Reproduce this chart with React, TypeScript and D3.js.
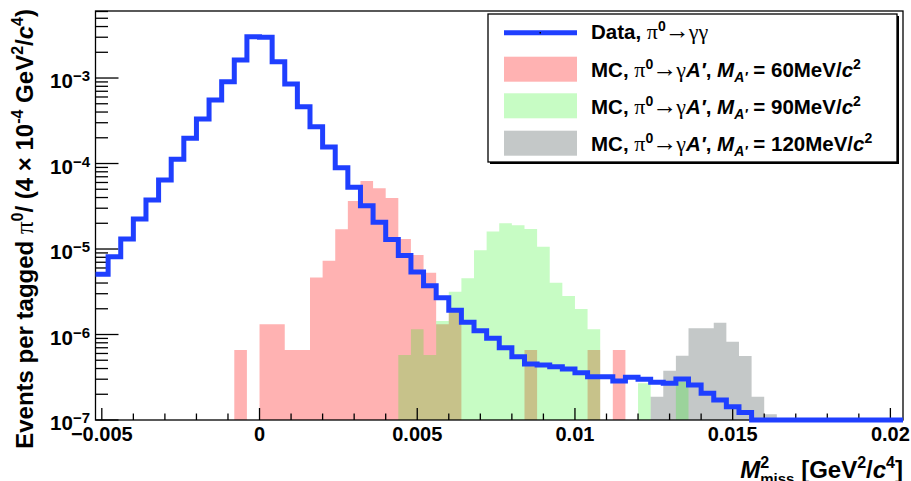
import * as d3 from "d3"

// binning of all histograms: 64 bins of 4e-4 GeV^2/c^4
const binStart = -0.0052
const binWidth = 0.0004

// Data, pi0 -> gamma gamma (0 = empty bin)
const dataValues = [
  5.06e-6, 8.13e-6, 1.31e-5, 2.24e-5, 3.74e-5, 6.41e-5, 1.12e-4, 1.97e-4,
  3.31e-4, 5.53e-4, 9.06e-4, 1.62e-3, 3.04e-3, 2.99e-3, 1.55e-3, 8.51e-4,
  4.62e-4, 2.69e-4, 1.56e-4, 8.93e-5, 5.27e-5, 3.21e-5, 2.05e-5, 1.29e-5,
  8.4e-6, 5.38e-6, 3.71e-6, 2.69e-6, 1.92e-6, 1.39e-6, 1.11e-6, 9.03e-7,
  7.01e-7, 5.5e-7, 4.52e-7, 4.4e-7, 4.2e-7, 3.95e-7, 3.57e-7, 3.21e-7,
  3.21e-7, 2.86e-7, 3.16e-7, 2.99e-7, 2.76e-7, 2.69e-7, 3.02e-7, 2.57e-7,
  2.05e-7, 1.71e-7, 1.43e-7, 1.22e-7, 0, 0, 0, 0,
  0, 0, 0, 0, 0, 0, 0, 0,
]

// MC, M_A' = 60 MeV/c^2
const mc60Values = [
  0, 0, 0, 0, 0, 0, 0, 0,
  0, 0, 0, 6.6e-7, 0, 1.32e-6, 1.32e-6, 6.6e-7,
  6.6e-7, 4.65e-6, 7.3e-6, 1.7e-5, 3.64e-5, 6.24e-5, 5.13e-5, 3.95e-5,
  1.31e-5, 8.5e-6, 5.28e-6, 1.32e-6, 1.85e-6, 0, 0, 0,
  0, 0, 6.6e-7, 0, 0, 0, 0, 6.6e-7,
  0, 6.6e-7, 0, 0, 0, 0, 0, 0,
  0, 0, 0, 0, 0, 0, 0, 0,
  0, 0, 0, 0, 0, 0, 0, 0,
]

// MC, M_A' = 90 MeV/c^2
const mc90Values = [
  0, 0, 0, 0, 0, 0, 0, 0,
  0, 0, 0, 0, 0, 0, 0, 0,
  0, 0, 0, 0, 0, 0, 0, 0,
  5.76e-7, 1.15e-6, 5.76e-7, 1.44e-6, 3.17e-6, 4.54e-6, 9.7e-6, 1.6e-5,
  2.0e-5, 1.9e-5, 1.71e-5, 1.06e-5, 4.03e-6, 2.82e-6, 1.99e-6, 1.15e-6,
  0, 0, 0, 2.69e-7, 0, 0, 2.81e-7, 0,
  0, 0, 0, 0, 0, 0, 0, 0,
  0, 0, 0, 0, 0, 0, 0, 0,
]

// MC, M_A' = 120 MeV/c^2
const mc120Values = [
  0, 0, 0, 0, 0, 0, 0, 0,
  0, 0, 0, 0, 0, 0, 0, 0,
  0, 0, 0, 0, 0, 0, 0, 0,
  0, 0, 0, 0, 0, 0, 0, 0,
  0, 0, 0, 0, 0, 0, 0, 0,
  0, 0, 0, 0, 1.87e-7, 3.77e-7, 5.65e-7, 1.18e-6,
  1.18e-6, 1.37e-6, 8.24e-7, 5.6e-7, 1.87e-7, 1.17e-7, 0, 0,
  0, 0, 0, 0, 0, 0, 0, 0,
]

const xMajorTicks = [-0.005, 0, 0.005, 0.01, 0.015, 0.02]
const xTickLabels = ["\u22120.005", "0", "0.005", "0.01", "0.015", "0.02"]
const yDecades = [-7, -6, -5, -4, -3]

const W = 911
const H = 481
const FONT = "'Liberation Sans', Arial, Helvetica, sans-serif"
const GREEK = "'Liberation Serif', 'DejaVu Serif', serif"

const PINK = { fill: "#ff0000", opacity: 0.3 }
const GREEN = { fill: "#1ef514", opacity: 0.25 }
const GRAY = { fill: "#c4c8c8", opacity: 1 }
const BLUE = "#1f3fff"

const x = d3.scaleLinear().domain([-0.0052, 0.0204]).range([95.5, 903])
const y = d3.scaleLog().domain([1e-7, 6.08e-3]).range([420, 11])
const y0 = y.range()[0]
const edge = (i: number) => binStart + i * binWidth

// filled histogram: one polygon per run of non-empty bins
function fillPath(vals: number[]) {
  let d = ""
  let open = false
  vals.forEach((v, i) => {
    if (v > 0) {
      if (!open) {
        d += `M${x(edge(i))},${y0}`
        open = true
      }
      d += `V${y(v)}H${x(edge(i + 1))}`
    } else if (open) {
      d += `V${y0}Z`
      open = false
    }
  })
  if (open) d += `V${y0}Z`
  return d
}

// outline histogram, empty bins drawn at the bottom of the frame
function stepPath(vals: number[]) {
  const yy = (v: number) => (v > 0 ? y(v) : y0)
  let d = `M${x(edge(0))},${yy(vals[0])}`
  vals.forEach((v, i) => {
    d += `H${x(edge(i + 1))}`
    if (i + 1 < vals.length) d += `V${yy(vals[i + 1])}`
  })
  return d
}

const LEG_FS = 20.5

function Greek({ t, size = 22 }: { t: string; size?: number }) {
  return (
    <tspan fontFamily={GREEK} fontWeight="normal" fontSize={size}>
      {t}
    </tspan>
  )
}

function LegendLabel({ mass, yPos }: { mass: string; yPos: number }) {
  return (
    <text x={591} y={yPos} fontFamily={FONT} fontWeight="bold" fontSize={LEG_FS}>
      MC,{" "}
      <Greek t="π" />
      <tspan dy={-8} fontSize={14}>
        0
      </tspan>
      <tspan dy={8} dx={-1} fontFamily={GREEK} fontWeight="normal" fontSize={25}>
        →
      </tspan>
      <tspan dx={-1}>
        <Greek t="γ" />
      </tspan>
      <tspan fontStyle="italic">A′</tspan>,{" "}
      <tspan fontStyle="italic">M</tspan>
      <tspan dy={5} fontSize={14} fontStyle="italic">
        A′
      </tspan>
      <tspan dy={-5}> = {mass}MeV/</tspan>
      <tspan fontStyle="italic">c</tspan>
      <tspan dy={-8} fontSize={14}>
        2
      </tspan>
    </text>
  )
}

export default function App() {
  const xMinor = d3.range(-0.005, 0.02005, 0.001)
  const yTicks = y.ticks().filter((t) => t <= y.domain()[1])
  const isDecade = (t: number) => Math.abs(Math.log10(t) - Math.round(Math.log10(t))) < 1e-6

  return (
    <svg
      width={W}
      height={H}
      viewBox={`0 0 ${W} ${H}`}
      style={{ position: "absolute", left: 0, top: 0, background: "#fff" }}
    >
      <rect width={W} height={H} fill="#fff" />

      {/* MC histograms */}
      <path d={fillPath(mc60Values)} fill={PINK.fill} fillOpacity={PINK.opacity} />
      <path d={fillPath(mc120Values)} fill={GRAY.fill} fillOpacity={GRAY.opacity} />
      <path d={fillPath(mc90Values)} fill={GREEN.fill} fillOpacity={GREEN.opacity} />

      {/* frame */}
      <rect
        x={x.range()[0]}
        y={y.range()[1]}
        width={x.range()[1] - x.range()[0]}
        height={y0 - y.range()[1]}
        fill="none"
        stroke="#000"
        strokeWidth={1.3}
      />

      {/* x ticks */}
      {xMinor.map((t) => {
        const major = xMajorTicks.some((m) => Math.abs(m - t) < 1e-9)
        return (
          <line
            key={`xt${t}`}
            x1={x(t)}
            x2={x(t)}
            y1={y0}
            y2={y0 - (major ? 12 : 6.5)}
            stroke="#000"
            strokeWidth={1.3}
          />
        )
      })}
      {xMajorTicks.map((t, i) => (
        <text
          key={`xl${t}`}
          x={x(t)}
          y={440.5}
          textAnchor="middle"
          fontFamily={FONT}
          fontWeight="bold"
          fontSize={20}
        >
          {xTickLabels[i]}
        </text>
      ))}

      {/* y ticks */}
      {yTicks.map((t) => (
        <line
          key={`yt${t}`}
          x1={x.range()[0]}
          x2={x.range()[0] + (isDecade(t) ? 23 : 12.5)}
          y1={y(t)}
          y2={y(t)}
          stroke="#000"
          strokeWidth={1.3}
        />
      ))}
      {yDecades.map((p) => (
        <text
          key={`yl${p}`}
          x={90}
          y={y(Math.pow(10, p)) + 10}
          textAnchor="end"
          fontFamily={FONT}
          fontWeight="bold"
          fontSize={20.5}
        >
          10
          <tspan dy={-7} fontSize={15}>
            {`\u2212${-p}`}
          </tspan>
        </text>
      ))}

      {/* data */}
      <path d={stepPath(dataValues)} fill="none" stroke={BLUE} strokeWidth={5} strokeLinejoin="miter" />

      {/* axis titles */}
      <text
        x={903}
        y={478}
        textAnchor="end"
        fontFamily={FONT}
        fontWeight="bold"
        fontSize={24}
      >
        <tspan fontStyle="italic">M</tspan>
        <tspan dy={-10} fontSize={16}>
          2
        </tspan>
        <tspan dx={-9} dy={16} fontSize={15}>
          miss
        </tspan>
        <tspan dy={-6}> [GeV</tspan>
        <tspan dy={-10} fontSize={16}>
          2
        </tspan>
        <tspan dy={10}>/</tspan>
        <tspan fontStyle="italic">c</tspan>
        <tspan dy={-10} fontSize={16}>
          4
        </tspan>
        <tspan dy={10}>]</tspan>
      </text>

      <text
        transform="translate(33,9) rotate(-90)"
        textAnchor="end"
        fontFamily={FONT}
        fontWeight="bold"
        fontSize={24}
      >
        Events per tagged <Greek t="π" size={25} />
        <tspan dy={-10} fontSize={16}>
          0
        </tspan>
        <tspan dy={10}>/ (4 × 10</tspan>
        <tspan dy={-10} fontSize={16}>
          -4
        </tspan>
        <tspan dy={10}> GeV</tspan>
        <tspan dy={-10} fontSize={16}>
          2
        </tspan>
        <tspan dy={10}>/</tspan>
        <tspan fontStyle="italic">c</tspan>
        <tspan dy={-10} fontSize={16}>
          4
        </tspan>
        <tspan dy={10}>)</tspan>
      </text>

      {/* legend */}
      <rect x={490} y={16} width={409} height={148} fill="#000" />
      <rect x={488} y={14} width={409} height={148} fill="#fff" stroke="#000" strokeWidth={1.3} />
      <line x1={504} x2={577} y1={32.7} y2={32.7} stroke={BLUE} strokeWidth={5} />
      <rect x={539.5} y={32} width={1.5} height={1.5} fill="#000" />
      <rect x={504} y={56.7} width={73} height={25} fill={PINK.fill} fillOpacity={PINK.opacity} />
      <rect x={504} y={93.3} width={73} height={25} fill={GREEN.fill} fillOpacity={GREEN.opacity} />
      <rect x={504} y={130.7} width={73} height={25} fill={GRAY.fill} fillOpacity={GRAY.opacity} />

      <text x={591} y={39} fontFamily={FONT} fontWeight="bold" fontSize={LEG_FS}>
        Data, <Greek t="π" />
        <tspan dy={-8} fontSize={14}>
          0
        </tspan>
        <tspan dy={8} dx={-1} fontFamily={GREEK} fontWeight="normal" fontSize={25}>
          →
        </tspan>
        <tspan dx={-1}>
          <Greek t="γγ" />
        </tspan>
      </text>
      <LegendLabel mass="60" yPos={76.5} />
      <LegendLabel mass="90" yPos={113.5} />
      <LegendLabel mass="120" yPos={150.5} />
    </svg>
  )
}
